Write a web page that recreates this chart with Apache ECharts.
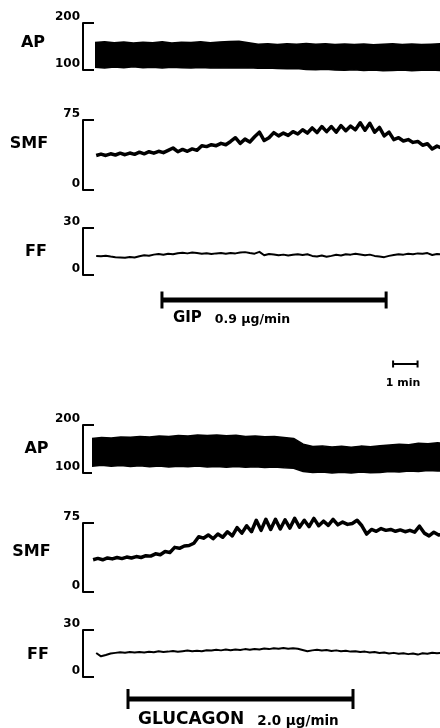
<!DOCTYPE html>
<html><head><meta charset="utf-8">
<script src="https://cdn.jsdelivr.net/npm/echarts@6/dist/echarts.min.js"></script>
<style>html,body{margin:0;padding:0;background:#fff}#c{width:440px;height:728px}</style>
</head><body><div id="c"></div>
<script>
// ---------- time base (minutes) ----------
const TIME_MAX = 15;
const STEP_FINE = 0.2;   // sampling of SMF / FF traces
const STEP_AP = 0.4;     // sampling of AP envelopes

// ---------- axis ranges (tick labels = min / max) ----------
const apRange = [100, 200];
const smfRange = [0, 75];
const ffRange = [0, 30];
const traceNames = ['AP', 'SMF', 'FF'];

// ---------- Panel 1 : GIP ----------
const gipApStart = 0.5;
const gipApTop = [158.5,160,158,159.5,157.5,159,158,160,157.5,159,158.5,160,158,159.5,160.5,161,158,155,156,154.5,156,155,156.5,155,156,154.5,155.5,154,155.5,153.5,155,156,154,155.5,154,155,156];
const gipApBottom = [106,104.5,106.5,105,107,105,106,104.5,106,105,104,105.5,104,105,104.5,104,105,103.5,104,103,102.5,103,101,100.5,101.5,100,99.5,100.5,99,100,98.5,99,100,98.5,99.5,100,99];
const gipSmfStart = 0.55;
const gipSmf = [37,38.5,37,38.8,37.5,39.5,37.8,39.6,38.2,40.5,38.8,41,39.5,41.5,40,42.5,45,41,43.5,41.5,44,42.5,47.5,46.5,48.5,47.5,50,48.5,52,56,50,54.5,51.5,57,62,53,56,61.5,58,61,58.5,62.5,60,64.5,61,66.5,61.5,68,62.5,68,62,69,63.5,68.5,64.5,72,64,71.5,62,67,58,62,54,56,52.5,54,51,52,48,49.5,44,47,45];
const gipFfStart = 0.55;
const gipFf = [12.2,12.0,12.3,11.8,11.4,11.2,11.0,11.5,11.2,12.0,12.6,12.3,13.0,13.4,12.9,13.6,13.2,13.9,14.2,13.8,14.3,14.0,13.6,13.9,13.4,13.8,14.0,13.6,14.1,13.8,14.3,14.6,14.0,13.6,14.8,12.6,13.4,13.1,12.6,13.0,12.4,12.9,13.3,12.8,13.2,12.2,11.8,12.4,11.6,12.2,12.9,12.5,13.3,13.0,13.6,13.1,12.6,13.0,12.2,11.8,11.4,12.2,12.8,13.2,13.0,13.6,13.3,13.8,13.5,14.0,12.8,13.4,13.2];
const gipInfusion = [3.29, 12.63];
const gipAgent = 'GIP';
const gipDose = '0.9 μg/min';

// ---------- time scale bar ----------
const scaleBar = [12.92, 13.94];
const scaleText = '1 min';

// ---------- Panel 2 : GLUCAGON ----------
const glcApStart = 0.375;
const glcApTop = [172,174,173,175,174.5,176,175,177,176,178,177,179,178,179,177.5,178.5,176,177,175.5,176,174,172,160,155,156.5,154,155.5,153.5,156,154.5,157,158.5,160,159,162,161,163,162];
const glcApBottom = [114,116,114,115.5,113.5,115,113,114.5,112.5,114,113,114.5,112.5,113.5,112,113.5,112,113,111.5,112.5,111,110,103,101,102,100,101.5,100,102,100.5,101,103,102,104,103,105,104,105];
const glcSmfStart = 0.42;
const glcSmf = [35,36.5,35,37,36,37.5,36.3,38,37,38.5,37.5,39.5,39,41.5,40.5,44,43,48.5,47.5,50,50.5,53,60,58.5,62,58,63,59.5,65.5,61,70,64,72,65.5,78,67,79,68,79,68.5,78.5,69.5,80,70.5,78,71,80,72,77,72.5,79,73,76,73.5,74.5,78,72,63,68,66,69,67,68,66,67.5,65.5,67,65,71.5,64,61,65,62,63];
const glcFfStart = 0.55;
const glcFf = [15.3,13.2,14.0,15.0,15.4,15.8,15.5,15.9,15.6,16.0,15.7,16.1,15.8,16.4,16.0,16.2,16.6,16.1,16.5,16.9,16.4,16.8,16.5,17.1,16.9,17.4,17.0,17.5,17.1,17.6,17.3,17.8,17.4,17.9,17.6,18.2,17.8,18.3,18.0,18.5,18.1,18.3,18.0,17.2,16.4,17.0,17.4,16.9,17.2,16.6,17.0,16.5,16.8,16.2,16.5,15.9,16.2,15.6,15.9,15.3,15.6,15.0,15.4,14.8,15.2,14.6,15.0,14.3,15.2,14.8,15.5,15.2,15.4];
const glcInfusion = [1.875, 11.25];
const glcAgent = 'GLUCAGON';
const glcDose = '2.0 μg/min';

// ---------- build ----------
const FONT = '"DejaVu Sans", sans-serif';
const BLACK = '#000';
const BAND_FLOOR = 88;  // black fill reference (below AP axis so the band may dip under 100)
const MASK_FLOOR = 80;  // white mask reference, lower than BAND_FLOOR to hide the seam
function toXY(start, step, vals) { return vals.map((v, i) => [+(start + i * step).toFixed(4), v]); }

// grid boxes: [top, height]
const gridBoxes = [
  [23, 47],   // 0 AP  (GIP)
  [120, 70],  // 1 SMF (GIP)
  [228, 47],  // 2 FF  (GIP)
  [291, 18],  // 3 GIP bar
  [358, 12],  // 4 1-min bar
  [425, 48],  // 5 AP  (GLUCAGON)
  [523, 69],  // 6 SMF (GLUCAGON)
  [630, 47],  // 7 FF  (GLUCAGON)
  [689, 20]   // 8 GLUCAGON bar
];
const grid = gridBoxes.map(b => ({ left: 83, width: 360, top: b[0], height: b[1], containLabel: false, outerBoundsMode: 'none' }));
const xAxis = gridBoxes.map((b, i) => ({ gridIndex: i, type: 'value', min: 0, max: TIME_MAX, show: false }));

function traceAxis(gi, range, name, gap, lift) {
  return {
    gridIndex: gi, type: 'value', min: range[0], max: range[1], interval: range[1] - range[0],
    axisLine: { show: true, onZero: false, lineStyle: { color: BLACK, width: 2 } },
    axisTick: { show: true, inside: true, length: 11, lineStyle: { color: BLACK, width: 2 } },
    axisLabel: { show: true, margin: 3, verticalAlign: 'bottom', color: BLACK, fontSize: 12, fontWeight: 'bold', fontFamily: FONT },
    splitLine: { show: false },
    name: '{n|' + name + '}', nameLocation: 'middle', nameRotate: 0, nameGap: gap, nameMoveOverlap: false,
    nameTextStyle: { align: 'center', verticalAlign: 'middle',
      rich: { n: { color: BLACK, fontSize: 16, fontWeight: 'bold', fontFamily: FONT,
        padding: lift >= 0 ? [0, 0, 2 * lift, 0] : [-2 * lift, 0, 0, 0] } } }
  };
}
function hiddenAxis(gi) { return { gridIndex: gi, type: 'value', min: -1, max: 1, show: false }; }

const yAxis = [
  traceAxis(0, apRange, traceNames[0], 50, 3.5),
  traceAxis(1, smfRange, traceNames[1], 54, 11),
  traceAxis(2, ffRange, traceNames[2], 47, 0),
  hiddenAxis(3),
  hiddenAxis(4),
  traceAxis(5, apRange, traceNames[0], 46.5, 0.5),
  traceAxis(6, smfRange, traceNames[1], 51.5, 6),
  traceAxis(7, ffRange, traceNames[2], 45, -1.5),
  hiddenAxis(8)
];

// AP band: black area under systolic envelope, white mask under diastolic envelope
function apBand(gi, start, top, bottom) {
  return [
    { type: 'line', xAxisIndex: gi, yAxisIndex: gi, data: toXY(start, STEP_AP, top), symbol: 'none', clip: false, z: 2,
      lineStyle: { color: BLACK, width: 1.5 }, areaStyle: { color: BLACK, opacity: 1, origin: BAND_FLOOR }, silent: true },
    { type: 'line', xAxisIndex: gi, yAxisIndex: gi, data: toXY(start, STEP_AP, bottom), symbol: 'none', clip: false, z: 3,
      lineStyle: { color: BLACK, width: 1.5 }, areaStyle: { color: '#fff', opacity: 1, origin: MASK_FLOOR }, silent: true }
  ];
}
function trace(gi, start, vals, w) {
  return { type: 'line', xAxisIndex: gi, yAxisIndex: gi, data: toXY(start, STEP_FINE, vals), symbol: 'none', clip: false,
    lineStyle: { color: BLACK, width: w, join: 'round' }, silent: true };
}
function infusionBar(gi, span, agent, dose, capH, dx, dy, bigSize, smallSize, gapPx) {
  return { type: 'line', xAxisIndex: gi, yAxisIndex: gi, silent: true, clip: false,
    symbol: 'rect', symbolSize: [3, capH], showAllSymbol: true, itemStyle: { color: BLACK },
    lineStyle: { color: BLACK, width: 5 },
    data: [
      { value: [span[0], 0], label: { show: true, position: [dx, dy], align: 'left', verticalAlign: 'middle',
          formatter: '{a|' + agent + '}{b|' + dose + '}',
          rich: { a: { fontSize: bigSize, fontWeight: 'bold', fontFamily: FONT, color: BLACK, verticalAlign: 'bottom' },
                  b: { fontSize: smallSize, fontWeight: 'bold', fontFamily: FONT, color: BLACK, verticalAlign: 'bottom',
                       padding: [0, 0, 0, gapPx] } } } },
      [span[1], 0]
    ] };
}

const series = [
  ...apBand(0, gipApStart, gipApTop, gipApBottom),
  trace(1, gipSmfStart, gipSmf, 3.5),
  trace(2, gipFfStart, gipFf, 2),
  infusionBar(3, gipInfusion, gipAgent, gipDose, 17, 12.5, 27, 15, 12.5, 13),
  { type: 'line', xAxisIndex: 4, yAxisIndex: 4, silent: true, clip: false,
    symbol: 'rect', symbolSize: [2, 7], itemStyle: { color: BLACK }, lineStyle: { color: BLACK, width: 2 },
    data: [
      { value: [scaleBar[0], 0], label: { show: true, position: [11, 23], align: 'center', verticalAlign: 'middle',
          formatter: scaleText, fontSize: 11, fontWeight: 'bold', fontFamily: FONT, color: BLACK } },
      [scaleBar[1], 0]
    ] },
  ...apBand(5, glcApStart, glcApTop, glcApBottom),
  trace(6, glcSmfStart, glcSmf, 3.5),
  trace(7, glcFfStart, glcFf, 2),
  infusionBar(8, glcInfusion, glcAgent, glcDose, 20, 11.5, 31, 17, 13.5, 13)
];

const chart = echarts.init(document.getElementById('c'));
chart.setOption({ animation: false, backgroundColor: '#fff', grid, xAxis, yAxis, series });
</script>
</body></html>
